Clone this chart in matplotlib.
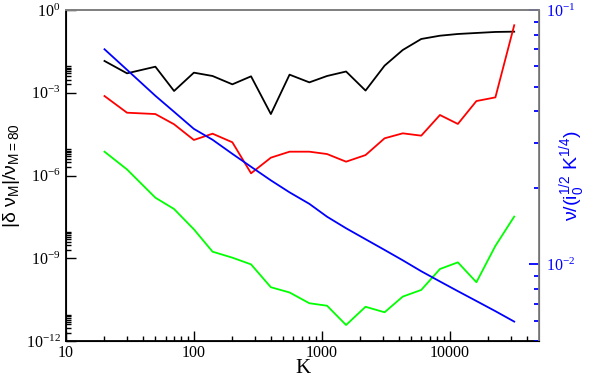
import numpy as np
import matplotlib
matplotlib.use("Agg")
import matplotlib.pyplot as plt
from matplotlib.ticker import FixedLocator, NullFormatter

plt.rcParams["mathtext.fontset"] = "custom"
plt.rcParams["mathtext.rm"] = "Liberation Serif"
plt.rcParams["mathtext.sf"] = "Liberation Sans"
plt.rcParams["font.family"] = ["Liberation Serif", "DejaVu Sans"]

# K values common to all curves
K = [20, 30, 50, 70, 100, 140, 200, 280, 400, 560, 800, 1100, 1550, 2200,
     3100, 4300, 6000, 8400, 11600, 16200, 22800, 32000]

# relative deviation |delta nu_M| / nu_{M=80} (left axis)
dev_black = [1.42e-2, 5.06e-3, 8.8e-3, 1.16e-3, 5.35e-3, 4.05e-3, 2.02e-3, 3.94e-3,
             1.69e-4, 4.53e-3, 2.38e-3, 4.05e-3, 5.89e-3, 1.2e-3, 9.6e-3, 3.55e-2,
             8.9e-2, 0.117, 0.135, 0.147, 0.160, 0.164]
dev_red = [7.6e-4, 1.89e-4, 1.69e-4, 7.2e-5, 1.94e-5, 3.28e-5, 1.6e-5, 1.2e-6,
           4.43e-6, 7.3e-6, 7.3e-6, 6.0e-6, 3.17e-6, 5.5e-6, 2.23e-5, 3.38e-5,
           2.78e-5, 1.56e-4, 7.4e-5, 5.0e-4, 6.8e-4, 0.28]
dev_green = [7.3e-6, 1.66e-6, 1.57e-7, 6.1e-8, 1.12e-8, 1.73e-9, 1.05e-9, 6.0e-10,
             8.9e-11, 5.75e-11, 2.34e-11, 1.9e-11, 3.8e-12, 1.74e-11, 1.1e-11, 4.07e-11,
             7.1e-11, 4.07e-10, 7.1e-10, 1.35e-10, 2.8e-9, 3.24e-8]

# scaled frequency nu / (i0^1/2 K^1/4) (right axis)
nu_scaled = [0.0701, 0.0582, 0.0460, 0.0398, 0.0341, 0.0309, 0.0272, 0.0242,
             0.0214, 0.0192, 0.0173, 0.0154, 0.01387, 0.01256, 0.01140, 0.01038,
             0.00940, 0.00857, 0.00785, 0.00718, 0.00655, 0.00596]

left_majors = [1e-12, 1e-9, 1e-6, 1e-3, 1e0]
left_labels = [r"$\mathrm{10^{-12}}$", r"$\mathrm{10^{-9}}$", r"$\mathrm{10^{-6}}$",
               r"$\mathrm{10^{-3}}$", r"$\mathrm{10^{0}}$"]
x_majors = [10, 100, 1000, 10000]
x_labels = ["10", "100", "1000", "10000"]

fig = plt.figure(figsize=(5.94, 3.77), dpi=100)
ax = fig.add_axes([66 / 594, 36 / 377, 473 / 594, 331 / 377])

lw = 1.3
ax.plot(K, dev_black, color="black", lw=lw)
ax.plot(K, dev_red, color="#ff0000", lw=lw)
ax.plot(K, dev_green, color="#00ff00", lw=lw)

ax.set_xscale("log")
ax.set_yscale("log")
ax.set_xlim(10, 50000)
ax.set_ylim(1e-12, 1)

ax.set_xticks(x_majors)
ax.set_xticklabels(x_labels)
ax.xaxis.set_minor_locator(FixedLocator(
    [k * 10.0 ** e for e in range(1, 5) for k in range(2, 10) if k * 10.0 ** e < 50000]))
ax.xaxis.set_minor_formatter(NullFormatter())

ax.set_yticks(left_majors)
ax.set_yticklabels(left_labels)
ax.yaxis.set_minor_locator(FixedLocator(
    [k * 10.0 ** e for e in (-12, -9, -6, -3) for k in range(2, 10)]))
ax.yaxis.set_minor_formatter(NullFormatter())

ax.tick_params(which="both", direction="in", top=False, right=False,
               labelsize=11.5, width=1.0, color="black")
ax.tick_params(which="major", length=7)
ax.tick_params(which="minor", length=3.5)
ax.tick_params(axis="x", pad=3)
ax.tick_params(axis="y", pad=4)

ax.spines["left"].set_linewidth(1.3)
ax.spines["bottom"].set_linewidth(1.3)
ax.spines["top"].set_color("#808080")
ax.spines["top"].set_linewidth(1.3)

ax.set_xlabel("K", fontsize=15)
ax.xaxis.set_label_coords(0.5, -0.055)
ax.set_ylabel(r"|δ ν$_\mathsf{M}$|/ν$_\mathsf{M=80}$", fontsize=14,
              family=["Liberation Sans", "DejaVu Sans"])
ax.yaxis.set_label_coords(-0.092, 0.5)

ax2 = ax.twinx()
ax2.plot(K, nu_scaled, color="#0000ff", lw=lw)
ax2.set_yscale("log")
ax2.set_ylim(0.005, 0.1)
ax2.set_yticks([0.01, 0.1])
ax2.set_yticklabels([r"$\mathrm{10^{-2}}$", r"$\mathrm{10^{-1}}$"])
ax2.yaxis.set_minor_locator(FixedLocator(
    [0.005, 0.006, 0.007, 0.008, 0.009] + [k * 0.01 for k in range(2, 10)]))
ax2.yaxis.set_minor_formatter(NullFormatter())
ax2.tick_params(which="both", direction="in", colors="#0000ff", labelsize=11.5, width=1.3,
                pad=5)
ax2.tick_params(which="major", length=7)
ax2.tick_params(which="minor", length=3.5)
ax2.spines["right"].set_color("#808080")
ax2.spines["right"].set_linewidth(1.3)
ax2.spines["top"].set_color("#808080")
ax2.spines["top"].set_linewidth(1.3)
ax2.set_ylabel(r"ν/(i$_\mathsf{0}^\mathsf{1/2}$ K$^\mathsf{1/4}$)", fontsize=14,
               color="#0000ff", family=["Liberation Sans", "DejaVu Sans"])
ax2.yaxis.set_label_coords(1.04, 0.5)

fig.savefig("out.png", dpi=100)
